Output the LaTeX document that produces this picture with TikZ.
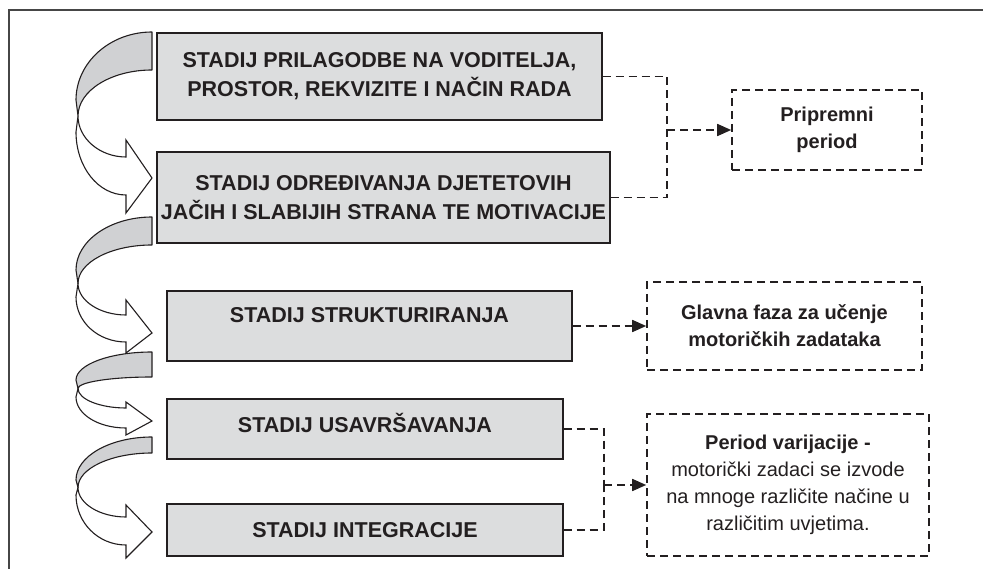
\documentclass[tikz,border=0pt]{standalone}
\usepackage{fontspec}
\setmainfont{Liberation Sans}
\usepackage{xcolor}
\definecolor{inkdark}{RGB}{35,31,32}
\definecolor{framegray}{RGB}{70,70,70}
\definecolor{boxgray}{RGB}{220,221,222}
\definecolor{backgray}{RGB}{208,209,211}
\usepackage{tikz}
\usetikzlibrary{arrows.meta, positioning, calc}

\tikzset{
  stagebox/.style={draw=inkdark, line width=1.3pt, fill=boxgray, inner sep=2pt,
    align=center, font=\bfseries\fontsize{21.5}{29}\selectfont, text=inkdark},
  notebox/.style={draw=inkdark, line width=1.6pt, dash pattern=on 8pt off 5pt,
    align=center, inner sep=2pt, font=\fontsize{20}{27}\selectfont, text=inkdark},
  dashline/.style={draw=inkdark, line width=1.7pt, dash pattern=on 8pt off 5pt},
  dasharrow/.style={dashline, -{Triangle[length=14pt,width=12pt]}},
  ribbonback/.style={draw=inkdark, line width=1.1pt, fill=backgray, line join=round},
  ribbonfront/.style={draw=inkdark, line width=1.1pt, fill=white, line join=miter},
  frameline/.style={draw=framegray, line width=1.5pt}
}

% curved arrow: top, inner top, left start, left end, shaft top, head top, tip, head bottom, shaft bottom
\newcommand{\stagearrow}[9]{%
  \draw[ribbonback] (152,#1) .. controls (110,#1) and (76,{#3-0.55*(#3-#1)}) .. (76,#3)
    -- (78,{(#3+#4)/2})
    .. controls (78,{(#3+#4)/2-0.55*((#3+#4)/2-#2)}) and (111,#2) .. (152,#2) -- cycle;
  \draw[ribbonfront] (78,{(#3+#4)/2})
    .. controls (78,{(#3+#4)/2+0.55*(#5-(#3+#4)/2)}) and (100,#5) .. (126,#5)
    -- (126,#6) -- (152,#7) -- (126,#8) -- (126,#9)
    .. controls (98,#9) and (76,{#4+0.55*(#9-#4)}) .. (76,#4) -- cycle;
}

\begin{document}
\begin{tikzpicture}[x=1pt, y=-1pt]
  \useasboundingbox (0,0) rectangle (983,569);
  % frame
  \draw[frameline] (9,569) -- (9,10) -- (983,10);

  % --- Stages ---
  \node[stagebox, minimum width=445pt, minimum height=87pt] (s1) at (379.5,76.5)
       {STADIJ PRILAGODBE NA VODITELJA,\\PROSTOR, REKVIZITE I NAČIN RADA};
  \node[stagebox, minimum width=453pt, minimum height=91pt] (s2) at (383.5,197.5)
       {STADIJ ODREĐIVANJA DJETETOVIH\\JAČIH I SLABIJIH STRANA TE MOTIVACIJE};
  \node[stagebox, minimum width=405pt, minimum height=70pt, text height=16pt, text depth=23pt]
       (s3) at (369.5,326) {STADIJ STRUKTURIRANJA};
  \node[stagebox, minimum width=396pt, minimum height=60pt, text height=16pt, text depth=10pt]
       (s4) at (365,429) {STADIJ USAVRŠAVANJA};
  \node[stagebox, minimum width=396pt, minimum height=52pt] (s5) at (365,530)
       {STADIJ INTEGRACIJE};

  % --- Curved arrows between stages ---
  \stagearrow{32}{70}{100}{132}{157}{140}{178}{213}{195}
  \stagearrow{217}{245}{270}{297}{315}{300}{333}{353}{342}
  \stagearrow{352}{377}{380}{397}{408}{402}{421}{435}{428}
  \stagearrow{437}{453}{480}{495}{517}{505}{532}{558}{545}

  % --- Periods ---
  \node[notebox, font=\bfseries\fontsize{20}{27}\selectfont, minimum width=190pt, minimum height=80pt]
       (p1) at (827,130) {Pripremni\\period};
  \node[notebox, font=\bfseries\fontsize{20}{27}\selectfont, minimum width=275pt, minimum height=88pt]
       (p2) at (784.5,326) {Glavna faza za učenje\\motoričkih zadataka};
  \node[notebox, minimum width=282pt, minimum height=142pt] (p3) at (788,485)
       {\textbf{Period varijacije -}\\motorički zadaci se izvode\\na mnoge različite načine u\\različitim uvjetima.};

  % --- Dashed connectors ---
  \coordinate (j1) at (667,130);
  \coordinate (j2) at (604,485);
  \draw[dashline] (s1.east) -| (j1);
  \draw[dashline] (s2.east) -| (j1);
  \draw[dasharrow] (j1) -- (p1.west);
  \draw[dasharrow] (s3.east) -- (p2.west);
  \draw[dashline] (s4.east) -| (j2);
  \draw[dashline] (s5.east) -| (j2);
  \draw[dasharrow] (j2) -- (p3.west);
\end{tikzpicture}
\end{document}
